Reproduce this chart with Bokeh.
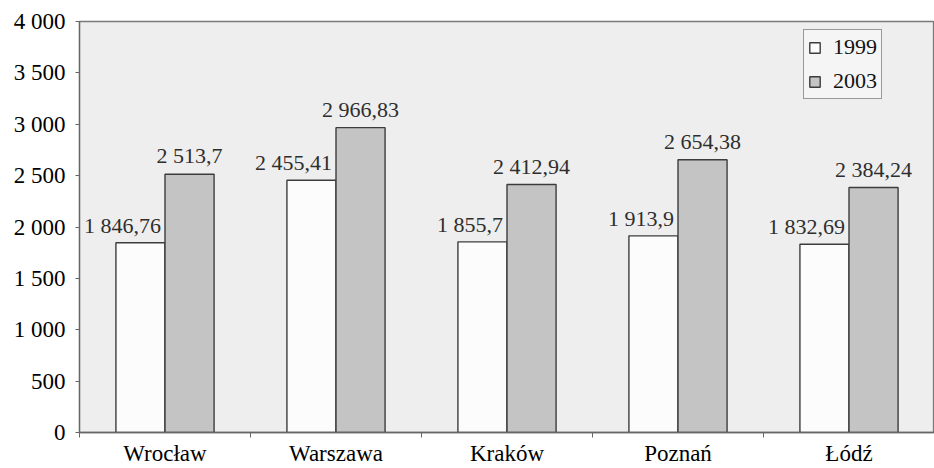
from bokeh.plotting import figure
from bokeh.models import FixedTicker, Legend, LegendItem, ColumnDataSource, Range1d
from bokeh.embed import file_html
from bokeh.resources import INLINE
from bokeh.core.properties import value

cities = ["Wrocław", "Warszawa", "Kraków", "Poznań", "Łódź"]
v1999 = [1846.76, 2455.41, 1855.7, 1913.9, 1832.69]
v2003 = [2513.7, 2966.83, 2412.94, 2654.38, 2384.24]
lab1999 = ["1 846,76", "2 455,41", "1 855,7", "1 913,9", "1 832,69"]
lab2003 = ["2 513,7", "2 966,83", "2 412,94", "2 654,38", "2 384,24"]
yticks = [0, 500, 1000, 1500, 2000, 2500, 3000, 3500, 4000]
ytick_labels = ["0", "500", "1 000", "1 500", "2 000", "2 500", "3 000", "3 500", "4 000"]

FONT = "'Liberation Serif', 'Times New Roman', serif"
BW = 0.287

idx = list(range(len(cities)))
centers = [i + 0.5 for i in idx]
src = ColumnDataSource(dict(
    c=centers,
    x1=[c - BW / 2 for c in centers],
    x2=[c + BW / 2 for c in centers],
    v1=v1999, v2=v2003, l1=lab1999, l2=lab2003,
))

p = figure(width=934, height=468, output_backend="svg", toolbar_location=None,
           x_range=Range1d(0, len(cities)), y_range=Range1d(0, 4000),
           min_border_left=79, min_border_top=21, min_border_bottom=35, min_border_right=0)
p.background_fill_color = "#eeeeee"
p.border_fill_color = "white"
p.outline_line_color = "#7a7a7a"
p.outline_line_width = 1.3
p.grid.visible = False

r1 = p.vbar(x="x1", top="v1", width=BW, source=src, fill_color="#fcfcfc",
            line_color="#3c3c3c", line_width=1.4)
r2 = p.vbar(x="x2", top="v2", width=BW, source=src, fill_color="#c4c4c4",
            line_color="#3c3c3c", line_width=1.4)

p.text(x="c", y="v1", text="l1", source=src, text_align="right", text_baseline="bottom",
       x_offset=-4, y_offset=-5, text_font=value(FONT), text_font_size="22px", text_color="#2e2e2e")
p.text(x="x2", y="v2", text="l2", source=src, text_align="center", text_baseline="bottom",
       y_offset=-6, text_font=value(FONT), text_font_size="22px", text_color="#2e2e2e")

# y axis
p.yaxis.ticker = FixedTicker(ticks=yticks)
p.yaxis.major_label_overrides = {t: s for t, s in zip(yticks, ytick_labels)}
p.yaxis.major_label_text_font = FONT
p.yaxis.major_label_text_font_size = "23px"
p.yaxis.major_label_text_color = "#000000"
p.yaxis.major_tick_out = 4
p.yaxis.major_tick_in = 0
p.yaxis.minor_tick_line_color = None
p.yaxis.axis_line_color = "#666666"
p.yaxis.axis_line_width = 1.3
p.yaxis.major_tick_line_color = "#666666"
p.yaxis.major_label_standoff = 10

# x axis
p.xaxis.ticker = FixedTicker(ticks=centers, minor_ticks=list(range(len(cities) + 1)))
p.xaxis.major_label_overrides = {c: n for c, n in zip(centers, cities)}
p.xaxis.major_label_text_font = FONT
p.xaxis.major_label_text_font_size = "23px"
p.xaxis.major_label_text_color = "#000000"
p.xaxis.major_tick_out = 0
p.xaxis.major_tick_in = 0
p.xaxis.minor_tick_out = 5
p.xaxis.minor_tick_in = 0
p.xaxis.minor_tick_line_color = "#666666"
p.xaxis.axis_line_color = "#666666"
p.xaxis.axis_line_width = 1.3
p.xaxis.major_label_standoff = 3

legend = Legend(items=[LegendItem(label="1999", renderers=[r1]),
                       LegendItem(label="2003", renderers=[r2])],
                location=(724, 333))
legend.label_text_font = FONT
legend.label_text_font_size = "22px"
legend.label_text_color = "#111111"
legend.glyph_width = 13
legend.glyph_height = 13
legend.label_height = 22
legend.label_width = 40
legend.spacing = 8
legend.padding = 4
legend.margin = 0
legend.label_standoff = 12
legend.border_line_color = "#3c3c3c"
legend.border_line_width = 1.4
legend.background_fill_color = "#f5f5f5"
legend.background_fill_alpha = 1
p.add_layout(legend, "center")

open("out.html", "w").write(file_html(p, INLINE))
